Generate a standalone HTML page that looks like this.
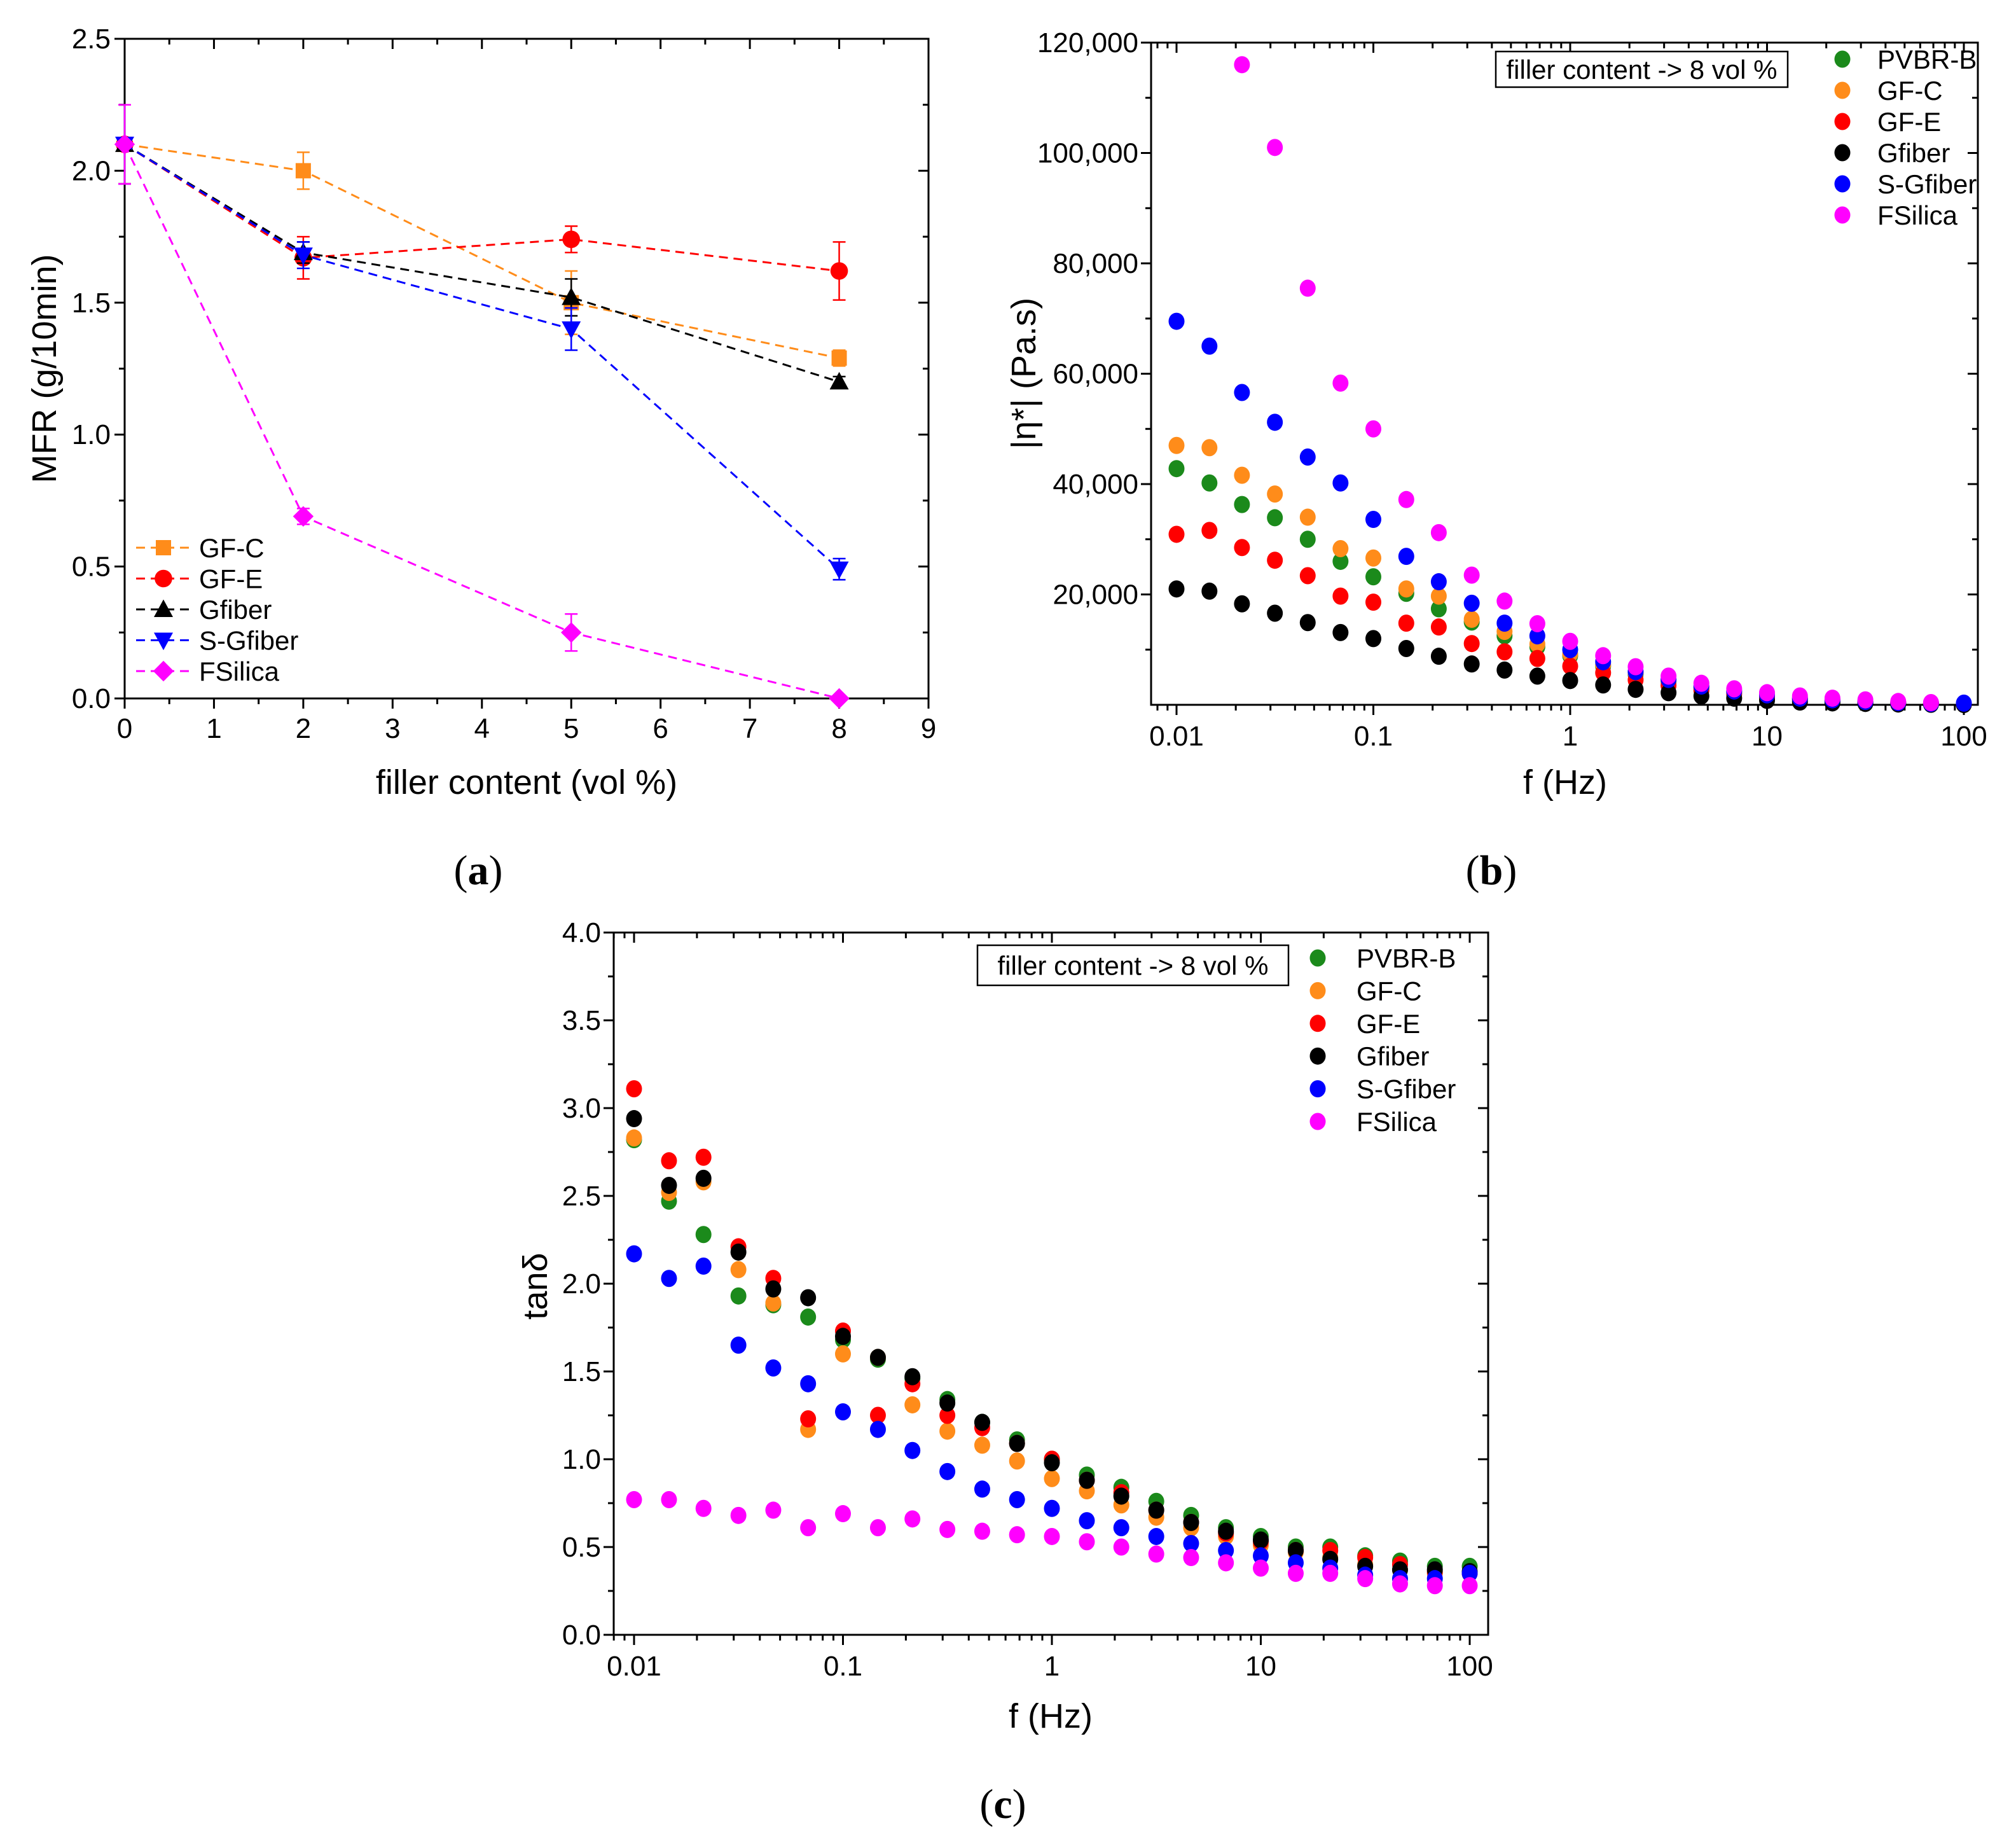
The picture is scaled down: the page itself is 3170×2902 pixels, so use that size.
<!DOCTYPE html>
<html><head><meta charset="utf-8">
<style>
html,body{margin:0;padding:0;background:#fff;}
svg{display:block;font-family:"Liberation Sans",sans-serif;}
</style></head>
<body>
<svg id="fig" width="3170" height="2902" viewBox="0 0 3170 2902" xmlns="http://www.w3.org/2000/svg">
<rect width="3170" height="2902" fill="#fff"/>
<text x="752" y="1390" font-family="Liberation Serif,serif" font-size="66" text-anchor="middle">(<tspan font-weight="bold">a</tspan>)</text>
<text x="2345" y="1390" font-family="Liberation Serif,serif" font-size="66" text-anchor="middle">(<tspan font-weight="bold">b</tspan>)</text>
<text x="1577" y="2858" font-family="Liberation Serif,serif" font-size="66" text-anchor="middle">(<tspan font-weight="bold">c</tspan>)</text>
<g id="pa"></g>
<g id="pb"></g>
<g id="pc"></g>
</svg>
<script>
// ---------- Panel A data ----------
const aX = [0, 2, 5, 8];
const aNames = ["GF-C", "GF-E", "Gfiber", "S-Gfiber", "FSilica"];
const aGFC = [2.1, 2.0, 1.5, 1.29];
const aGFE = [2.1, 1.67, 1.74, 1.62];
const aGfiber = [2.1, 1.69, 1.52, 1.2];
const aSGfiber = [2.1, 1.68, 1.40, 0.49];
const aFSilica = [2.1, 0.69, 0.25, 0.0];
const aErrGFC = [0.15, 0.07, 0.12, 0.03];
const aErrGFE = [0.15, 0.08, 0.05, 0.11];
const aErrGfiber = [0.15, 0.04, 0.07, 0.02];
const aErrSGfiber = [0.15, 0.05, 0.08, 0.04];
const aErrFSilica = [0.15, 0.03, 0.07, 0.01];
const aYTicks = ["0.0", "0.5", "1.0", "1.5", "2.0", "2.5"];
const aXTicks = ["0","1","2","3","4","5","6","7","8","9"];

// ---------- Panel B data ----------
const bFreq = [0.01,0.0147,0.0215,0.0316,0.0464,0.0681,0.1,0.147,0.215,0.316,0.464,0.681,1,1.47,2.15,3.16,4.64,6.81,10,14.7,21.5,31.6,46.4,68.1,100];
const bNames = ["PVBR-B","GF-C","GF-E","Gfiber","S-Gfiber","FSilica"];
const bPVBR = [42800,40200,36300,33900,30000,26000,23200,20200,17400,15000,12500,10500,8900,7000,5500,4200,3000,2200,1500,1000,700,500,300,200,100];
const bGFC = [47000,46600,41600,38200,34000,28300,26600,21000,19700,15500,13300,11000,9200,7300,5800,4400,3200,2400,1700,1200,800,600,400,250,150];
const bGFE = [30900,31600,28500,26200,23400,19700,18600,14800,14100,11100,9600,8400,7000,5800,4500,3500,2600,1900,1300,900,600,400,300,200,100];
const bGfiber = [21000,20600,18300,16600,14900,13100,12000,10200,8800,7400,6300,5200,4400,3600,2800,2200,1600,1200,800,500,350,250,150,100,50];
const bSGfiber = [69500,65000,56600,51200,44900,40200,33600,26900,22300,18400,14800,12500,10000,7800,6000,4600,3400,2500,1800,1200,900,600,400,250,300];
const bFSilica = [null,null,116000,101000,75500,58300,50000,37200,31200,23500,18800,14700,11500,8900,6900,5200,3900,2900,2200,1600,1200,900,600,400,null];
const bYTicks = [20000,40000,60000,80000,100000,120000];
const bXTicks = [0.01,0.1,1,10,100];
const bXLabels = ["0.01","0.1","1","10","100"];

// ---------- Panel C data ----------
const cFreq = [0.01,0.0147,0.0215,0.0316,0.0464,0.0681,0.1,0.147,0.215,0.316,0.464,0.681,1,1.47,2.15,3.16,4.64,6.81,10,14.7,21.5,31.6,46.4,68.1,100];
const cPVBR = [2.82,2.47,2.28,1.93,1.88,1.81,1.68,1.57,1.46,1.34,1.21,1.11,1.0,0.91,0.84,0.76,0.68,0.61,0.56,0.50,0.50,0.45,0.42,0.39,0.39];
const cGFC = [2.83,2.52,2.58,2.08,1.89,1.17,1.60,1.58,1.31,1.16,1.08,0.99,0.89,0.82,0.74,0.67,0.61,0.56,0.51,0.47,0.44,0.40,0.37,0.35,0.35];
const cGFE = [3.11,2.70,2.72,2.21,2.03,1.23,1.73,1.25,1.43,1.25,1.18,1.09,1.0,0.88,0.81,0.71,0.64,0.58,0.53,0.48,0.48,0.44,0.40,0.36,0.35];
const cGfiber = [2.94,2.56,2.60,2.18,1.97,1.92,1.70,1.58,1.47,1.32,1.21,1.09,0.98,0.88,0.79,0.71,0.64,0.59,0.54,0.48,0.43,0.39,0.37,0.37,0.36];
const cSGfiber = [2.17,2.03,2.10,1.65,1.52,1.43,1.27,1.17,1.05,0.93,0.83,0.77,0.72,0.65,0.61,0.56,0.52,0.48,0.45,0.41,0.38,0.34,0.32,0.32,0.35];
const cFSilica = [0.77,0.77,0.72,0.68,0.71,0.61,0.69,0.61,0.66,0.60,0.59,0.57,0.56,0.53,0.50,0.46,0.44,0.41,0.38,0.35,0.35,0.32,0.29,0.28,0.28];
const cYTicks = ["0.0","0.5","1.0","1.5","2.0","2.5","3.0","3.5","4.0"];

const COL = {"PVBR-B":"#1b8a1b","GF-C":"#ff8c1a","GF-E":"#ff0000","Gfiber":"#000000","S-Gfiber":"#0000ff","FSilica":"#ff00ff"};
const TICKFS = 44, TITLEFS = 54, LEGFS = 42;
const NS = "http://www.w3.org/2000/svg";
function el(parent, tag, attrs, text){
  const e = document.createElementNS(NS, tag);
  for (const k in attrs) e.setAttribute(k, attrs[k]);
  if (text !== undefined) e.textContent = text;
  parent.appendChild(e);
  return e;
}
function frame(g, L, T, R, B){
  const r = el(g, "rect", {x:L, y:T, width:R-L, height:B-T, fill:"none", stroke:"#000", "stroke-width":3});
  
  
}
function tick(g, x1,y1,x2,y2){ el(g,"line",{x1:x1,y1:y1,x2:x2,y2:y2,stroke:"#000","stroke-width":3}); }

// ================= Panel A =================
(function(){
  const g = document.getElementById("pa");
  const L=196,R=1460,T=61,B=1098;
  const sx = v => L + (v/9)*(R-L);
  const sy = v => B - (v/2.5)*(B-T);
  frame(g,L,T,R,B);
  for (let i=0;i<=18;i++){ const v=i*0.5, x=sx(v), len=(i%2===0)?16:9;
    tick(g,x,B,x,B+len); tick(g,x,T,x,T+len); }
  for (let i=0;i<=10;i++){ const v=i*0.25, y=sy(v), len=(i%2===0)?16:9;
    tick(g,L,y,L-len,y); tick(g,R,y,R-len,y); }
  aYTicks.forEach(t=>{ const lab=el(g,"text",{x:L-22,y:sy(parseFloat(t))+15,"font-size":TICKFS,"text-anchor":"end"},t);
      });
  aXTicks.forEach(t=>{ const lab=el(g,"text",{x:sx(parseFloat(t)),y:B+62,"font-size":TICKFS,"text-anchor":"middle"},t);
      });
  const xt = el(g,"text",{x:(L+R)/2,y:1248,"font-size":TITLEFS,"text-anchor":"middle"},"filler content (vol %)");
   
  const yt = el(g,"text",{x:0,y:0,"font-size":TITLEFS,"text-anchor":"middle",transform:"translate(88,"+((T+B)/2)+") rotate(-90)"},"MFR (g/10min)");
   

  const series = [[aGFC,aErrGFC,"square"],[aGFE,aErrGFE,"circle"],[aGfiber,aErrGfiber,"up"],[aSGfiber,aErrSGfiber,"down"],[aFSilica,aErrFSilica,"diamond"]];
  function marker(p,type,x,y,c,s){
    if(type==="square") return el(p,"rect",{x:x-s,y:y-s,width:2*s,height:2*s,fill:c});
    if(type==="circle") return el(p,"circle",{cx:x,cy:y,r:s*1.15,fill:c});
    if(type==="up") return el(p,"polygon",{points:`${x},${y-s*1.3} ${x-s*1.25},${y+s} ${x+s*1.25},${y+s}`,fill:c});
    if(type==="down") return el(p,"polygon",{points:`${x},${y+s*1.3} ${x-s*1.25},${y-s} ${x+s*1.25},${y-s}`,fill:c});
    return el(p,"polygon",{points:`${x},${y-s*1.35} ${x+s*1.35},${y} ${x},${y+s*1.35} ${x-s*1.35},${y}`,fill:c});
  }
  series.forEach((s,i)=>{
    const name=aNames[i], c=COL[name];
    const sg = el(g,"g",{});
    
    
    const pts = aX.map((x,j)=>sx(x)+","+sy(s[0][j])).join(" ");
    el(sg,"polyline",{points:pts,fill:"none",stroke:c,"stroke-width":3,"stroke-dasharray":"14,9"});
    aX.forEach((x,j)=>{
      const X=sx(x), Y=sy(s[0][j]), e=s[1][j]*(B-T)/2.5;
      el(sg,"line",{x1:X,y1:Y-e,x2:X,y2:Y+e,stroke:c,"stroke-width":2.5});
      el(sg,"line",{x1:X-10,y1:Y-e,x2:X+10,y2:Y-e,stroke:c,"stroke-width":2.5});
      el(sg,"line",{x1:X-10,y1:Y+e,x2:X+10,y2:Y+e,stroke:c,"stroke-width":2.5});
      const m = marker(sg,s[2],X,Y,c,12);
      
      
    });
    const ly = 861 + i*48.5;
    const lg = el(g,"g",{});
    
    
    el(lg,"line",{x1:214,y1:ly,x2:299,y2:ly,stroke:c,"stroke-width":3,"stroke-dasharray":"14,9"});
    marker(lg,s[2],257,ly,c,12);
    el(lg,"text",{x:313,y:ly+15,"font-size":LEGFS},name);
  });
})();

// ============ log-x scatter panels ============
function logPanel(gid, L,T,R,B, x0px, x1px, ymin, ymax, freq, seriesArr, names, opts){
  const g = document.getElementById(gid);
  const sx = f => x0px + (Math.log10(f)+2)/4*(x1px-x0px);
  const sy = v => B - (v-ymin)/(ymax-ymin)*(B-T);
  frame(g,L,T,R,B);
  for (let d=-3; d<=2; d++){
    for (let m=1;m<10;m++){
      const f=m*Math.pow(10,d); const x=sx(f);
      if (x<L-1||x>R+1) continue;
      const len = m===1?16:9;
      tick(g,x,B,x,B+len); tick(g,x,T,x,T+len);
    }
  }
  opts.xTicks.forEach((f,i)=>{ const lab=el(g,"text",{x:sx(f),y:B+opts.xLabDy,"font-size":TICKFS,"text-anchor":"middle"},opts.xLabels[i]);
      });
  opts.yMinor.forEach(v=>{ const y=sy(v); tick(g,L,y,L-9,y); tick(g,R,y,R-9,y); });
  opts.yTicks.forEach((v,i)=>{ const y=sy(v); tick(g,L,y,L-16,y); tick(g,R,y,R-16,y);
    const lab=el(g,"text",{x:L-20,y:y+15,"font-size":TICKFS,"text-anchor":"end"},opts.yLabels[i]);
      });
  const xt=el(g,"text",{x:opts.xTitleX,y:opts.xTitleY,"font-size":TITLEFS,"text-anchor":"middle"},"f (Hz)");
   
  const yt=el(g,"text",{x:0,y:0,"font-size":TITLEFS,"text-anchor":"middle",transform:`translate(${opts.yTitleX},${opts.yTitleY}) rotate(-90)`},opts.yTitle);
   
  seriesArr.forEach((arr,i)=>{
    const name=names[i], c=COL[name];
    const sg=el(g,"g",{});
    
    
    arr.forEach((v,j)=>{
      if (v===null) return;
      const p=el(sg,"ellipse",{cx:sx(freq[j]),cy:sy(v),rx:12.5,ry:13.5,fill:c});
      
      
    });
  });
  const bx=opts.box;
  const ann=el(g,"g",{});
  
  
  el(ann,"rect",{x:bx[0],y:bx[1],width:bx[2]-bx[0],height:bx[3]-bx[1],fill:"#fff",stroke:"#000","stroke-width":2.5});
  el(ann,"text",{x:(bx[0]+bx[2])/2,y:(bx[1]+bx[3])/2+15,"font-size":LEGFS,"text-anchor":"middle"},"filler content -> 8 vol %");
  names.forEach((n,i)=>{
    const ly=opts.legY+i*opts.legDy;
    const lg=el(g,"g",{});
    
    
    el(lg,"ellipse",{cx:opts.legX,cy:ly,rx:12.5,ry:13.5,fill:COL[n]});
    el(lg,"text",{x:opts.legTx,y:ly+15,"font-size":LEGFS},n);
  });
}

const bMinor=[]; for(let v=10000; v<120000; v+=20000) bMinor.push(v);
logPanel("pb",1810,67,3110,1108,1850,3088,0,120000,bFreq,
  [bPVBR,bGFC,bGFE,bGfiber,bSGfiber,bFSilica],bNames,
  {xTicks:bXTicks,xLabels:bXLabels,xLabDy:64,yTicks:bYTicks,yLabels:bYTicks.map(v=>v.toLocaleString("en-US")),yMinor:bMinor,
   xTitleX:2461,xTitleY:1248,yTitleX:1628,yTitleY:587,yTitle:"|\u03b7*| (Pa.s)",
   box:[2352,81,2811,137],legX:2897,legTx:2952,legY:93,legDy:49});

const cMinor=[]; for(let v=0.25; v<4; v+=0.5) cMinor.push(v);
logPanel("pc",965,1466,2340,2570,997,2311,0,4,cFreq,
  [cPVBR,cGFC,cGFE,cGfiber,cSGfiber,cFSilica],bNames,
  {xTicks:bXTicks,xLabels:bXLabels,xLabDy:64,yTicks:cYTicks.map(parseFloat),yLabels:cYTicks,yMinor:cMinor,
   xTitleX:1652,xTitleY:2716,yTitleX:860,yTitleY:2022,yTitle:"tan\u03b4",
   box:[1537,1486,2026,1549],legX:2072,legTx:2133,legY:1506,legDy:51.4});
</script>
</body></html>
